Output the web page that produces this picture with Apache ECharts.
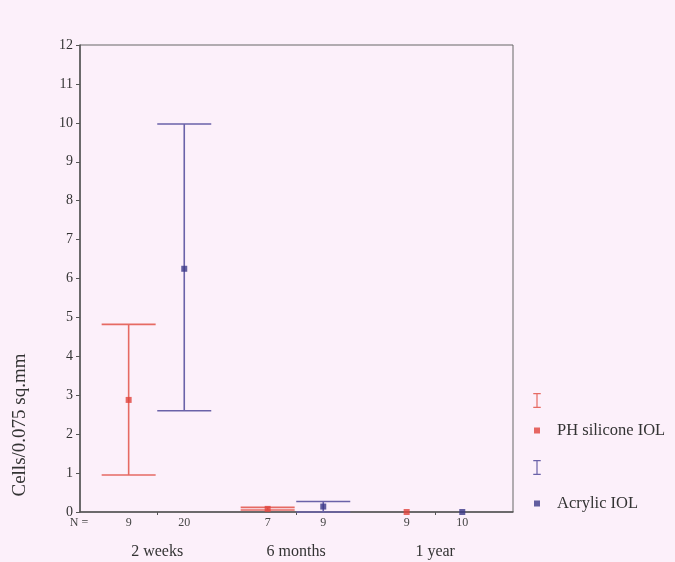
<!DOCTYPE html>
<html>
<head>
<meta charset="utf-8">
<script src="https://cdn.jsdelivr.net/npm/echarts@6/dist/echarts.min.js"></script>
<style>
html,body{margin:0;padding:0;background:#fcf0fa;}
#chart{width:675px;height:562px;}
</style>
</head>
<body>
<div id="chart"></div>
<script>
// ---- data ----
var categories = ['2 weeks', '6 months', '1 year'];
var groupNames = ['PH silicone IOL', 'Acrylic IOL'];
var phMean  = [2.88, 0.08, 0.0];
var phLow   = [0.95, 0.05, 0.0];
var phHigh  = [4.82, 0.12, 0.0];
var phN     = [9, 7, 9];
var acMean  = [6.25, 0.14, 0.0];
var acLow   = [2.60, 0.0, 0.0];
var acHigh  = [9.97, 0.27, 0.0];
var acN     = [20, 9, 10];
var yTicks  = [0,1,2,3,4,5,6,7,8,9,10,11,12];

// ---- styles ----
var redLine = '#e66a63', redMark = '#e0443c';
var blueLine = '#6a62a8', blueMark = '#3b3888';
var font = '"Liberation Serif", "DejaVu Serif", serif';
var offsets = [-0.205, 0.195];

function pts(mean, low, high, n, off) {
  return mean.map(function (m, i) { return [i + 1 + off, m, low[i], high[i], n[i]]; });
}
var phPts = pts(phMean, phLow, phHigh, phN, offsets[0]);
var acPts = pts(acMean, acLow, acHigh, acN, offsets[1]);

function errorRender(color) {
  return function (params, api) {
    var x = api.value(0), lo = api.value(2), hi = api.value(3), n = api.value(4);
    var pLo = api.coord([x, lo]);
    var pHi = api.coord([x, hi]);
    var hw = 27;
    var cs = params.coordSys;
    var children = [];
    if (hi !== lo) {
      var st = {stroke: color, lineWidth: 1.6};
      children.push({type: 'line', shape: {x1: pLo[0], y1: pLo[1], x2: pHi[0], y2: pHi[1]}, style: st});
      children.push({type: 'line', shape: {x1: pLo[0] - hw, y1: pLo[1], x2: pLo[0] + hw, y2: pLo[1]}, style: st});
      children.push({type: 'line', shape: {x1: pHi[0] - hw, y1: pHi[1], x2: pHi[0] + hw, y2: pHi[1]}, style: st});
    }
    children.push({type: 'text', style: {text: String(n), x: pLo[0], y: cs.y + cs.height + 11,
      align: 'center', verticalAlign: 'middle', fill: '#444', font: '12px ' + font}});
    return {type: 'group', children: children};
  };
}

var iconI = 'path://M0,0h10v1.6h-4.2v16.8h4.2v1.6h-10v-1.6h4.2v-16.8h-4.2z';
function legendOf(name, icon, color, left, top, w, h, pad) {
  return {
    orient: 'vertical', left: left, top: top, itemWidth: w, itemHeight: h, itemGap: 0,
    data: [{name: name, icon: icon, itemStyle: {color: color}}],
    formatter: function (nm) { return nm.indexOf('CI') >= 0 ? '' : nm; },
    textStyle: {fontFamily: font, fontSize: 16.5, color: '#333', padding: [0, 0, 0, pad]}
  };
}

var chart = echarts.init(document.getElementById('chart'));
chart.setOption({
  backgroundColor: '#fcf0fa',
  animation: false,
  grid: {left: 80, right: 162, top: 45, bottom: 50, show: true, borderColor: '#666', borderWidth: 1},
  xAxis: {
    type: 'value', min: 0.445, max: 3.56,
    splitLine: {show: false},
    axisLine: {lineStyle: {color: '#555', width: 1.5}},
    axisTick: {customValues: [1, 2, 3], length: 3, lineStyle: {color: '#555'}},
    axisLabel: {customValues: [1, 2, 3], margin: 32, fontFamily: font, fontSize: 16, color: '#333',
      formatter: function (v) { return categories[Math.round(v) - 1] || ''; }}
  },
  yAxis: {
    type: 'value', min: 0, max: 12, interval: 1,
    splitLine: {show: false},
    axisLine: {show: true, lineStyle: {color: '#555', width: 1.5}},
    axisTick: {show: true, length: 4, lineStyle: {color: '#555'}},
    axisLabel: {margin: 7, fontFamily: font, fontSize: 14, color: '#333',
      formatter: function (v) { return yTicks.indexOf(v) >= 0 ? String(v) : ''; }}
  },
  legend: [
    legendOf(groupNames[0] + ' CI', iconI, redLine, 527, 388, 10, 15, 0),
    legendOf(groupNames[0], 'rect', redMark, 529, 417, 6, 6, 12),
    legendOf(groupNames[1] + ' CI', iconI, blueLine, 527, 455, 10, 15, 0),
    legendOf(groupNames[1], 'rect', blueMark, 529, 490, 6, 6, 12)
  ],
  graphic: [
    {type: 'text', x: 20, y: 425, rotation: Math.PI / 2,
      style: {text: 'Cells/0.075 sq.mm', align: 'center', verticalAlign: 'middle', fill: '#333', font: '19px ' + font}},
    {type: 'text', x: 79, y: 523,
      style: {text: 'N =', align: 'center', verticalAlign: 'middle', fill: '#444', font: '12px ' + font}}
  ],
  series: [
    {name: groupNames[0] + ' CI', type: 'custom', clip: false, renderItem: errorRender(redLine),
      itemStyle: {color: redLine}, data: phPts, z: 2},
    {name: groupNames[1] + ' CI', type: 'custom', clip: false, renderItem: errorRender(blueLine),
      itemStyle: {color: blueLine}, data: acPts, z: 2},
    {name: groupNames[0], type: 'scatter', symbol: 'rect', symbolSize: 6, clip: false,
      itemStyle: {color: redMark}, data: phPts.map(function (p) { return [p[0], p[1]]; }), z: 3},
    {name: groupNames[1], type: 'scatter', symbol: 'rect', symbolSize: 6, clip: false,
      itemStyle: {color: blueMark}, data: acPts.map(function (p) { return [p[0], p[1]]; }), z: 3}
  ]
});
</script>
</body>
</html>
